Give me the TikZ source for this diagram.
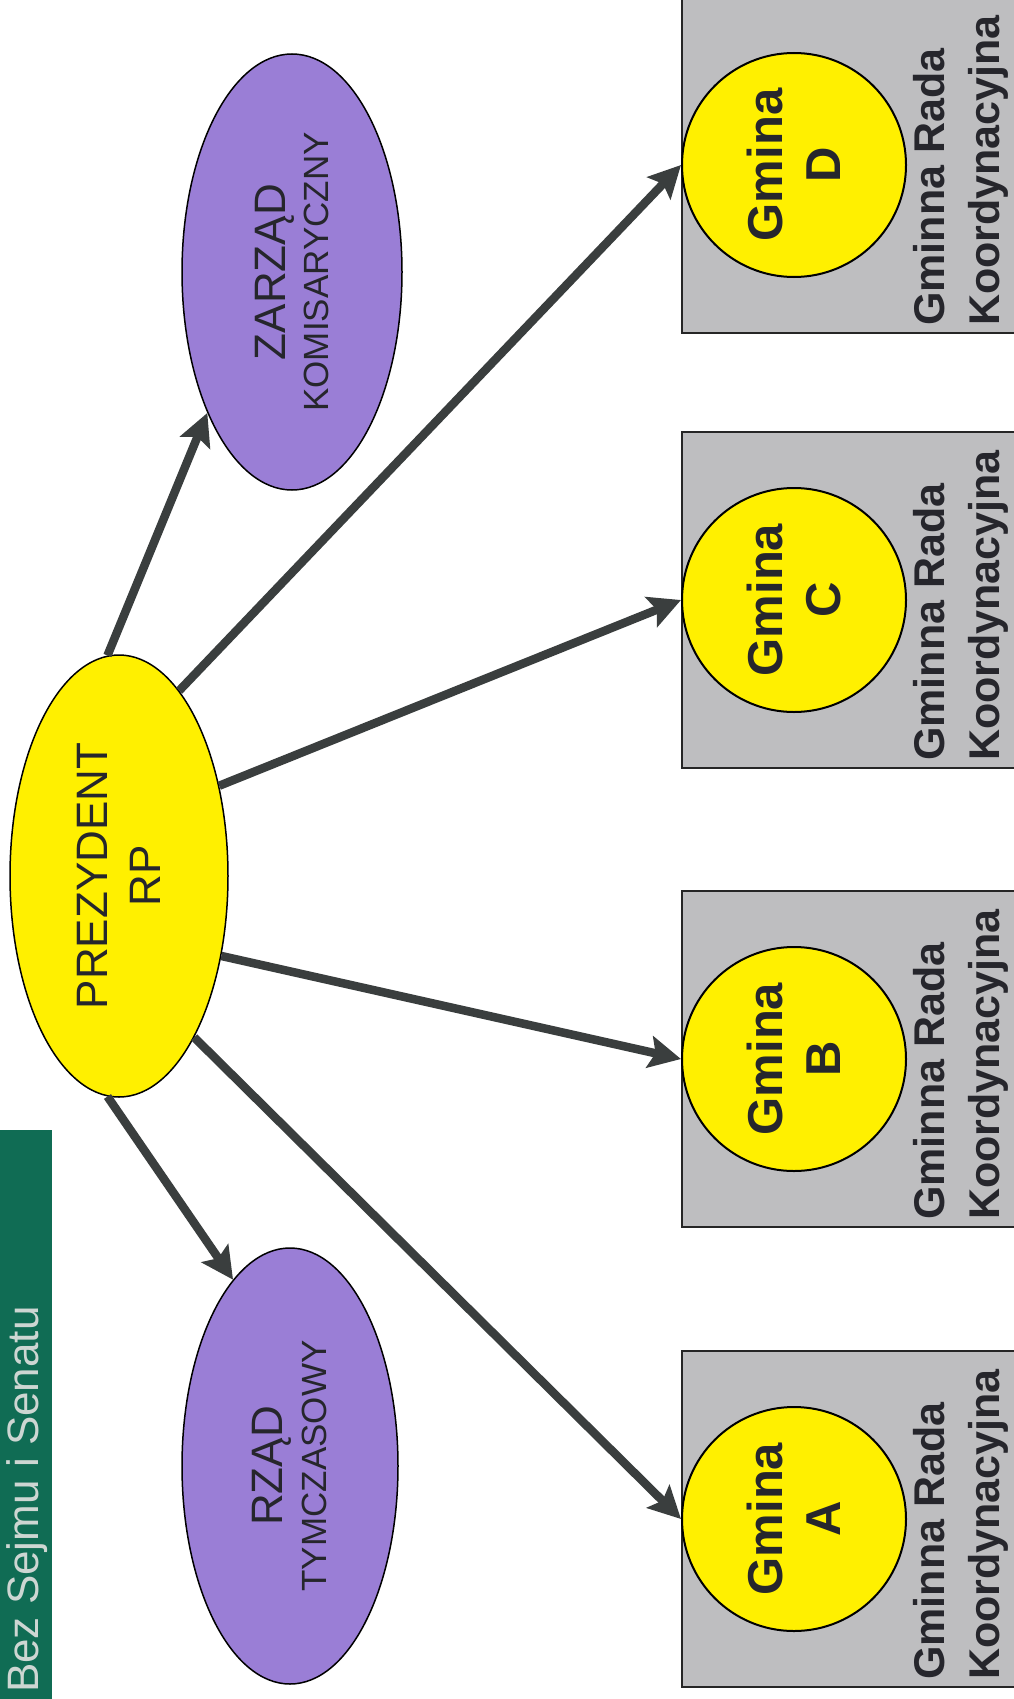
\documentclass[tikz,border=0pt]{standalone}
\usepackage{fontspec}
\setmainfont{Liberation Sans}
\usetikzlibrary{shapes.geometric,arrows.meta}

\definecolor{bargreen}{RGB}{16,108,84}
\definecolor{barlight}{RGB}{205,214,210}
\definecolor{gyellow}{RGB}{255,240,0}
\definecolor{lavender}{RGB}{154,126,214}
\definecolor{boxgray}{RGB}{190,190,192}
\definecolor{arrowgray}{RGB}{58,62,62}
\definecolor{darktext}{RGB}{38,38,44}

\newcommand{\bigfont}{\fontsize{44}{48}\selectfont}
\newcommand{\smallfont}{\fontsize{35}{40}\selectfont}
\newcommand{\rottwo}[3]{\rotatebox{90}{\vbox{\baselineskip=#3\lineskiplimit=-100pt\lineskip=0pt\halign{\hfil##\hfil\cr#1\cr#2\cr}}}}

\tikzset{
	oval/.style={ellipse, draw=black, line width=1.5pt, inner sep=0pt, text=darktext},
	gbox/.style={rectangle, draw=black!85, line width=2pt, fill=boxgray, minimum width=340pt, minimum height=336pt},
	gcircle/.style={circle, draw=black, line width=2pt, fill=gyellow, minimum size=224pt, inner sep=0pt, font=\bfseries\fontsize{49}{58}\selectfont, text=darktext},
	gtext/.style={rotate=90, anchor=west, align=left, inner sep=0pt, font=\bfseries\fontsize{43}{55}\selectfont, text=darktext},
	greenbar/.style={rectangle, fill=bargreen, minimum width=52pt, minimum height=575pt, inner sep=0pt},
	bartext/.style={rotate=90, anchor=base west, inner sep=0pt, font=\fontsize{44}{48}\selectfont, text=barlight},
	arrowline/.style={line width=8.5pt, draw=arrowgray, -{Stealth[length=32pt,width=32pt,inset=6pt]}}
}

\begin{document}
\begin{tikzpicture}[x=1pt,y=-1pt]
			\useasboundingbox (0,0) rectangle (1014,1699);
			\fill[white] (0,0) rectangle (1014,1699);
			
			%Title bar
			\node[greenbar] (bar) at (26,1417) {};
			\node[bartext] (bartitle) at (38,1693) {Bez Sejmu i Senatu};
			
			%Centre and the two bodies
			\node[oval, fill=gyellow, minimum width=218pt, minimum height=442pt] (prez) at (119,876) {\rottwo{\bigfont PREZYDENT}{\bigfont RP}{53pt}};
			\node[oval, fill=lavender, minimum width=220pt, minimum height=436pt] (zarz) at (292,272) {\rottwo{\bigfont ZARZĄD}{\smallfont KOMISARYCZNY}{43pt}};
			\node[oval, fill=lavender, minimum width=216pt, minimum height=436pt] (rzad) at (290,1466) {\rottwo{\bigfont RZĄD}{\smallfont TYMCZASOWY}{44pt}};
			
			%One Gmina
			\def\y{1519}
			\node[gbox] (boxA) at (852,\y) {};
			\node[gcircle] (gmA) at (794,\y) {\rottwo{Gmina}{A}{58pt}};
			\node[gtext] (radaA) at (961,\y+161) {Gminna Rada\\Koordynacyjna};
			
			%One Gmina
			\def\y{1059}
			\node[gbox] (boxB) at (852,\y) {};
			\node[gcircle] (gmB) at (794,\y) {\rottwo{Gmina}{B}{58pt}};
			\node[gtext] (radaB) at (961,\y+161) {Gminna Rada\\Koordynacyjna};
			
			%One Gmina
			\def\y{600}
			\node[gbox] (boxC) at (852,\y) {};
			\node[gcircle] (gmC) at (794,\y) {\rottwo{Gmina}{C}{58pt}};
			\node[gtext] (radaC) at (961,\y+161) {Gminna Rada\\Koordynacyjna};
			
			%One Gmina
			\def\y{165}
			\node[gbox] (boxD) at (852,\y) {};
			\node[gcircle] (gmD) at (794,\y) {\rottwo{Gmina}{D}{58pt}};
			\node[gtext] (radaD) at (961,\y+161) {Gminna Rada\\Koordynacyjna};
			
			%Arrows
			\draw[arrowline] (prez.93) -- (zarz.239);
			\draw[arrowline] (prez.267) -- (rzad.107);
			\draw[arrowline] (prez.72) -- (gmD.west);
			\draw[arrowline] (prez.42) -- (gmC.west);
			\draw[arrowline] (prez.322) -- (gmB.west);
			\draw[arrowline] (prez.295) -- (gmA.west);
		\end{tikzpicture}
\end{document}
